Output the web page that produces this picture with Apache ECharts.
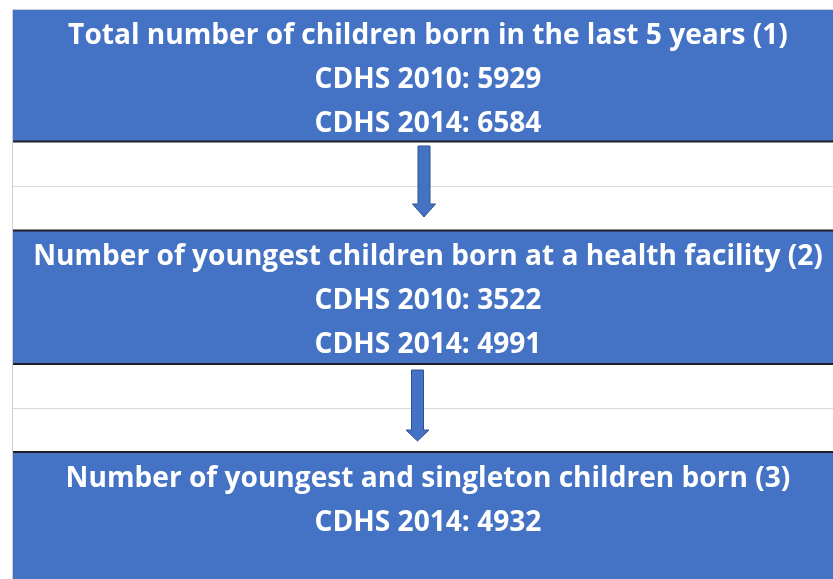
<!DOCTYPE html>
<html>
<head>
<meta charset="utf-8">
<script src="https://cdn.jsdelivr.net/npm/echarts@6/dist/echarts.min.js"></script>
<style>
  html, body { margin: 0; padding: 0; background: #fff; }
  #chart { width: 833px; height: 579px; }
</style>
</head>
<body>
<div id="chart"></div>
<script>
// flow steps
const stepTitles = [
  'Total number of children born in the last 5 years (1)',
  'Number of youngest children born at a health facility (2)',
  'Number of youngest and singleton children born (3)'
]
const surveyLabels = ['CDHS 2010', 'CDHS 2014']
const counts2010 = [5929, 3522, null]
const counts2014 = [6584, 4991, 4932]

const chart = echarts.init(document.getElementById('chart'))

const boxTop = [10, 231, 453]
const boxBottom = [141, 363, 579]
const boxLeft = 12
const lineGap = 44
const blue = '#4472C4'

// pick a font size so the first title is about as wide as in the source
const ctx = document.createElement('canvas').getContext('2d')
ctx.font = 'bold 20px "Open Sans"'
const w20 = ctx.measureText(stepTitles[0]).width
const fontSize = Math.round(20 * 720 / w20 * 10) / 10
const font = 'bold ' + fontSize + 'px "Open Sans"'

let elements = []

// left border + top border
elements.push({ type: 'line', shape: { x1: 12.5, y1: 9, x2: 12.5, y2: 579 }, style: { stroke: '#d0d0d0', lineWidth: 1 } })
elements.push({ type: 'line', shape: { x1: 12, y1: 9.5, x2: 833, y2: 9.5 }, style: { stroke: '#d0d0d0', lineWidth: 1 } })

stepTitles.forEach((title, i) => {
  elements.push({
    type: 'rect',
    shape: { x: boxLeft + 1, y: boxTop[i], width: 833 - boxLeft, height: boxBottom[i] - boxTop[i] },
    style: { fill: blue }
  })
  let lines = [title]
  if (counts2010[i] != null) lines.push(surveyLabels[0] + ': ' + counts2010[i])
  if (counts2014[i] != null) lines.push(surveyLabels[1] + ': ' + counts2014[i])
  let mid = boxTop[i] + 26
  lines.forEach((txt, k) => {
    elements.push({
      type: 'text',
      x: 428,
      y: mid + k * lineGap,
      style: { text: txt, font: font, fill: '#fff', textAlign: 'center', textVerticalAlign: 'middle' }
    })
  })
})

// dark separators and grey rows between boxes
const darkLines = [141.5, 230.5, 364, 452]
darkLines.forEach(y => {
  elements.push({ type: 'line', shape: { x1: boxLeft + 1, y1: y, x2: 833, y2: y }, style: { stroke: '#1e1e28', lineWidth: 2 } })
})
const greyLines = [186.5, 408.5]
greyLines.forEach(y => {
  elements.push({ type: 'line', shape: { x1: boxLeft + 1, y1: y, x2: 833, y2: y }, style: { stroke: '#d9d9d9', lineWidth: 1 } })
})

// down arrows
const arrows = [
  { cx: 424, top: 146, headTop: 204, tip: 217 },
  { cx: 417.5, top: 370, headTop: 430, tip: 441 }
]
arrows.forEach(a => {
  elements.push({
    type: 'polygon',
    shape: {
      points: [
        [a.cx - 6, a.top], [a.cx + 6, a.top], [a.cx + 6, a.headTop], [a.cx + 11.5, a.headTop],
        [a.cx, a.tip], [a.cx - 11.5, a.headTop], [a.cx - 6, a.headTop]
      ]
    },
    style: { fill: blue, stroke: '#2F528F', lineWidth: 1 }
  })
})

chart.setOption({
  backgroundColor: '#fff',
  animation: false,
  graphic: elements
})
</script>
</body>
</html>
